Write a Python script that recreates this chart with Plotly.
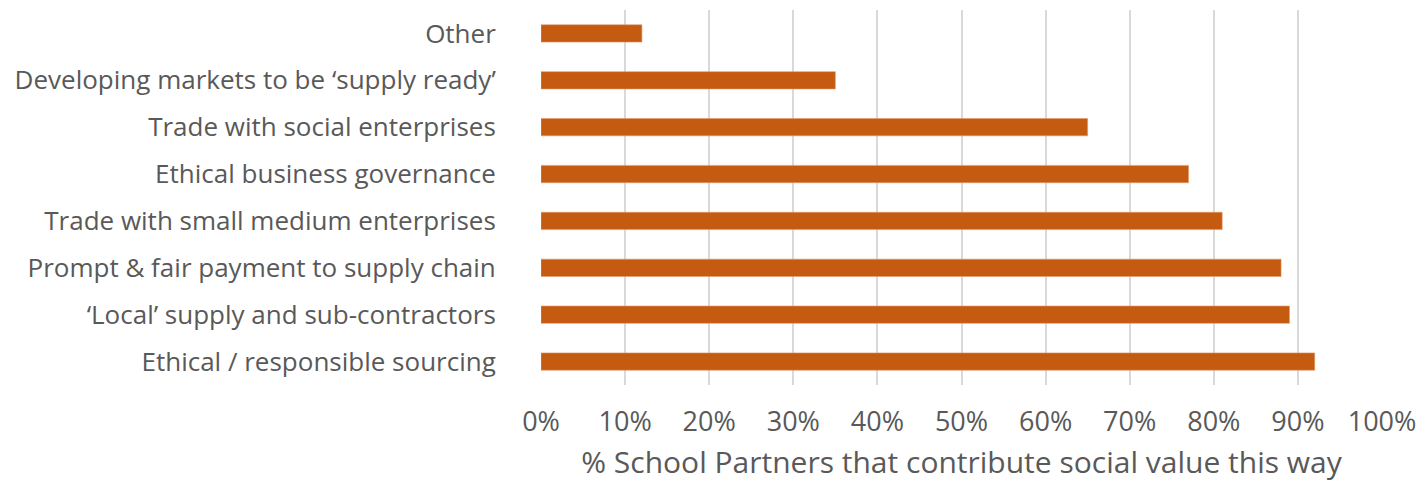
import plotly.graph_objects as go

categories = [
    "Ethical / responsible sourcing",
    "‘Local’ supply and sub-contractors",
    "Prompt & fair payment to supply chain",
    "Trade with small medium enterprises",
    "Ethical business governance",
    "Trade with social enterprises",
    "Developing markets to be ‘supply ready’",
    "Other",
]
values = [0.92, 0.89, 0.88, 0.81, 0.77, 0.65, 0.35, 0.12]
tick_vals = [0, 0.1, 0.2, 0.3, 0.4, 0.5, 0.6, 0.7, 0.8, 0.9, 1.0]
tick_text = ["0%", "10%", "20%", "30%", "40%", "50%", "60%", "70%", "80%", "90%", "100%"]
x_title = "% School Partners that contribute social value this way"

font_family = "'Open Sans', Lato, sans-serif"
text_color = "#595959"

fig = go.Figure(
    go.Bar(
        x=values,
        y=categories,
        orientation="h",
        marker=dict(color="#C55A11", line=dict(color="#E39A6E", width=0.6)),
        hoverinfo="x+y",
    )
)

fig.update_layout(
    width=1426,
    height=482,
    margin=dict(l=541, r=44, t=10, b=97),
    paper_bgcolor="white",
    plot_bgcolor="white",
    bargap=0.63,
    showlegend=False,
    font=dict(family=font_family, color=text_color),
)

fig.update_xaxes(
    range=[0, 1.0],
    tickvals=tick_vals,
    ticktext=tick_text,
    showgrid=True,
    gridcolor="#D9D9D9",
    gridwidth=2,
    zeroline=False,
    showline=False,
    automargin=False,
    tickfont=dict(size=27, color=text_color, family=font_family),
    ticks="outside",
    ticklen=13,
    tickcolor="rgba(0,0,0,0)",
    title=dict(text=x_title, font=dict(size=30, color=text_color, family=font_family), standoff=20),
)

fig.update_yaxes(
    showgrid=False,
    zeroline=False,
    showline=False,
    automargin=False,
    tickfont=dict(size=26, color=text_color, family=font_family),
    ticks="outside",
    ticklen=39,
    tickcolor="rgba(0,0,0,0)",
)

fig.write_html("out.html")
